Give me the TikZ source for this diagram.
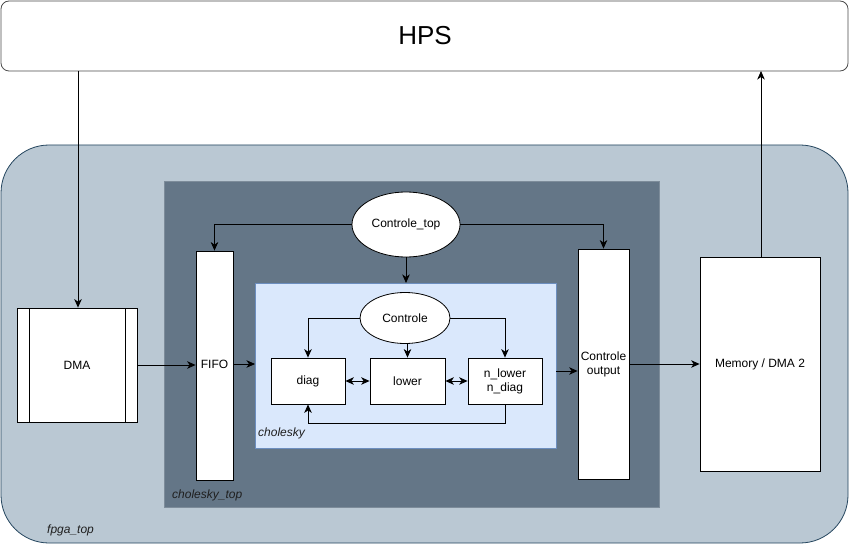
\documentclass[tikz,border=0pt]{standalone}
\usepackage{fontspec}
\setmainfont{Liberation Sans}
\usetikzlibrary{arrows.meta,shapes.geometric}
\definecolor{fpgafill}{HTML}{BAC8D3}
\definecolor{fpgadraw}{HTML}{23445D}
\definecolor{topfill}{HTML}{647687}
\definecolor{topdraw}{HTML}{7D8C9A}
\definecolor{cholfill}{HTML}{DAE8FC}
\definecolor{choldraw}{HTML}{6C8EBF}
\tikzset{
  x=1pt, y=-1pt,
  wbox/.style={draw=black, fill=white, line width=0.8pt, inner sep=0pt, align=center, font=\fontsize{12}{14}\selectfont},
  lbl/.style={font=\fontsize{12}{14}\selectfont\itshape, text=black!88, inner sep=0pt},
  conn/.style={draw=black, line width=0.8pt, -{Stealth[length=8.5pt,width=7.5pt,inset=2.5pt]}},
  dconn/.style={draw=black, line width=0.8pt, {Stealth[length=8.5pt,width=7.5pt,inset=2.5pt]}-{Stealth[length=8.5pt,width=7.5pt,inset=2.5pt]}},
}
\begin{document}
\begin{tikzpicture}
\useasboundingbox (0,0) rectangle (850,545);
% HPS
\draw[draw=black!70, fill=white, line width=0.8pt, rounded corners=8pt] (1,1) rectangle (848,71);
\node[font=\fontsize{26}{30}\selectfont, inner sep=0pt] (hps) at (425,36) {HPS};
\coordinate (hpsL) at (78,71);
\coordinate (hpsR) at (761,71);
% fpga_top
\draw[draw=fpgadraw, fill=fpgafill, line width=0.8pt, rounded corners=48pt] (1,145) rectangle (848,543);
\node[lbl, anchor=west] (fpgalbl) at (47,530) {fpga\_top};
% cholesky_top
\draw[draw=topdraw, fill=topfill, line width=0.8pt] (164,181) rectangle (659,507);
\node[lbl, anchor=west] (ctoplbl) at (172,495) {cholesky\_top};
% cholesky
\draw[draw=choldraw, fill=cholfill, line width=0.8pt] (255,283) rectangle (556,448);
\node[lbl, anchor=west] (chollbl) at (258,433) {cholesky};
\coordinate (cholN) at (406,283);
\coordinate (cholW) at (255,364);
\coordinate (cholE) at (556,371);
% DMA
\node[wbox, minimum width=120pt, minimum height=114pt] (dma) at (77,365) {DMA};
\draw[line width=0.8pt] (29,308) -- (29,422) (125,308) -- (125,422);
% FIFO
\node[wbox, minimum width=37pt, minimum height=229pt] (fifo) at (214.5,365.5) {};
\node[font=\fontsize{12}{14}\selectfont, inner sep=0pt] (fifot) at (214.5,364) {FIFO};
% Controle output
\node[wbox, minimum width=51pt, minimum height=230pt] (cout) at (603.5,364) {Controle\\output};
% Memory
\node[wbox, minimum width=120pt, minimum height=214pt] (mem) at (760,364) {Memory / DMA 2};
% Controle_top
\node[wbox, ellipse, minimum width=108pt, minimum height=65pt] (ctop) at (406,224.5) {Controle\_top};
% Controle
\node[wbox, ellipse, minimum width=90pt, minimum height=51pt] (ctrl) at (405,318) {Controle};
% inner blocks
\node[wbox, minimum width=74pt, minimum height=46pt] (diag) at (308,381) {diag};
\node[wbox, minimum width=75pt, minimum height=46pt] (lower) at (407.5,381) {lower};
\node[wbox, minimum width=74pt, minimum height=46pt] (nlow) at (505,381) {n\_lower\\n\_diag};
% connectors
\draw[conn] (hpsL) -- (dma.north -| hpsL);
\draw[conn] (mem.north -| hpsR) -- (hpsR);
\draw[conn] (dma.east |- 0,365) -- (fifo.west |- 0,365);
\draw[conn] (fifo.east |- cholW) -- (cholW);
\draw[conn] (cholE) -- (cout.west |- cholE);
\draw[conn] (cout.east |- mem.west) -- (mem.west);
\draw[conn] (ctop.west) -| (fifo.north);
\draw[conn] (ctop.east) -| (cout.north);
\draw[conn] (ctop.south) -- (cholN);
\draw[conn] (ctrl.west) -| (diag.north);
\draw[conn] (lower.north |- ctrl.south) -- (lower.north);
\draw[conn] (ctrl.east) -| (nlow.north);
\draw[dconn] (diag.east) -- (lower.west);
\draw[dconn] (lower.east) -- (nlow.west);
\draw[conn] (nlow.south) -- (505,423) -- (308,423) -- (diag.south);
\end{tikzpicture}
\end{document}
